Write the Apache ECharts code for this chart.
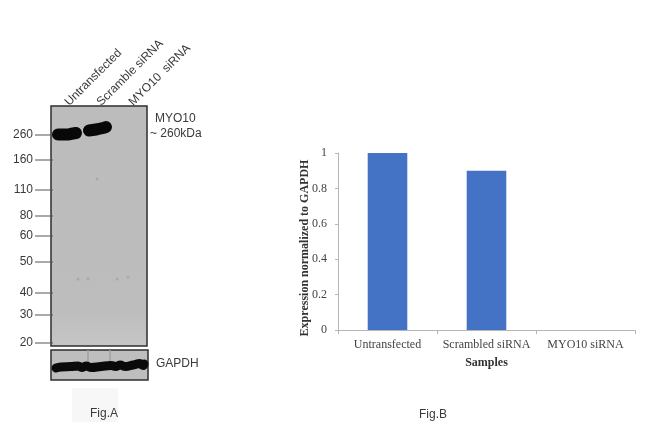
<!DOCTYPE html>
<html><head><meta charset="utf-8">
<style>html,body{margin:0;padding:0;background:#fff}#c{width:650px;height:429px}</style>
<script src="https://cdn.jsdelivr.net/npm/echarts@6/dist/echarts.min.js"></script>
</head><body><div id="c"></div>
<script>
const samples = ['Untransfected','Scrambled siRNA','MYO10 siRNA'];
const expression = [1, 0.9, 0];
const laneLabels = ['Untransfected','Scramble siRNA','MYO10  siRNA'];
// molecular weight marker and its migration distance on the gel (arbitrary units, read from the blot)
const markerKDa = [260,160,110,80,60,50,40,30,20];
const markerMigration = [29,54,84,110,130,156,187,209,237];
// MYO10 band profiles: [position across lane, migration]
const band1 = [[7,28.5],[15,28.5],[22,27.5],[25,27]];
const band2 = [[38,24.5],[45,23.5],[52,22],[55,21]];
// faint specks on the membrane
const gelSpecks = [[46,73],[27,173],[37,173],[77,171],[66,173]];
// GAPDH band profile across the panel
const gapdh = [[5,18],[10,17],[20,16.5],[27,16],[31,17.5],[35,16],[40,17.5],[50,16.5],[60,15.5],[65,16.5],[69,15],[74,16.5],[82,15],[89,13.5],[92,15.5],[93,14]];
const gapdhStreaks = [37,59];

const font = 'Liberation Sans, Arial, sans-serif';
const serif = 'Liberation Serif, Times New Roman, serif';
const ink = '#3a3a3a';

const chart = echarts.init(document.getElementById('c'), null, {renderer:'canvas'});
chart.setOption({
  animation:false,
  backgroundColor:'#fff',
  grid:[
    {left:338, top:153, width:297, height:177},
    {left:51, top:106, width:96, height:240, show:true, borderColor:'#2e2e2e', borderWidth:1.5,
      backgroundColor:{type:'linear',x:0,y:0,x2:0,y2:1,colorStops:[{offset:0,color:'#bcbcbc'},{offset:0.85,color:'#bdbdbd'},{offset:1,color:'#c6c6c6'}]}},
    {left:51, top:350, width:97, height:30, show:true, borderColor:'#2e2e2e', borderWidth:1.5, backgroundColor:'#bebebe'}
  ],
  xAxis:[
    {gridIndex:0,type:'category',data:samples,
      axisLine:{lineStyle:{color:'#b5b5b5'}},
      axisTick:{show:true,alignWithLabel:false,lineStyle:{color:'#b5b5b5'},length:4},
      axisLabel:{color:'#444',fontFamily:serif,fontSize:12,margin:9,interval:0},
      name:'Samples',nameLocation:'middle',nameGap:27,nameMoveOverlap:false,
      nameTextStyle:{fontFamily:serif,fontWeight:'bold',fontSize:12,color:'#333'}},
    {gridIndex:1,type:'category',position:'top',data:laneLabels,
      axisLine:{show:false},axisTick:{show:false},
      axisLabel:{rotate:45,color:ink,fontFamily:font,fontSize:12,margin:2,interval:0,align:'left',verticalAlign:'middle'}},
    {gridIndex:1,type:'value',min:0,max:96,show:false},
    {gridIndex:2,type:'value',min:0,max:97,show:false}
  ],
  yAxis:[
    {gridIndex:0,type:'value',min:0,max:1,interval:0.2,
      axisLine:{show:true,lineStyle:{color:'#b5b5b5'}},
      axisTick:{show:true,lineStyle:{color:'#b5b5b5'},length:3},
      splitLine:{show:false},
      axisLabel:{color:'#444',fontFamily:serif,fontSize:12,margin:11},
      name:'Expression normalized to GAPDH',nameLocation:'middle',nameGap:27,nameMoveOverlap:false,
      nameTextStyle:{fontFamily:serif,fontWeight:'bold',fontSize:12,color:'#333',padding:[0,13,0,0]}},
    {gridIndex:1,type:'value',min:0,max:240,inverse:true,show:false},
    {gridIndex:2,type:'value',min:0,max:30,inverse:true,show:false}
  ],
  series:[
    {type:'bar',xAxisIndex:0,yAxisIndex:0,data:expression,barWidth:'40%',itemStyle:{color:'#4472c4'}},
    {type:'custom',xAxisIndex:2,yAxisIndex:1,coordinateSystem:'cartesian2d',clip:false,
      data:markerKDa.map((k,i)=>[0,markerMigration[i],k]),
      encode:{x:0,y:1},
      renderItem(params,api){
        const p=api.coord([0,api.value(1)]);
        return {type:'group',children:[
          {type:'line',shape:{x1:p[0]-16,y1:p[1],x2:p[0]+2,y2:p[1]},style:{stroke:'#555',lineWidth:1}},
          {type:'text',style:{x:p[0]-18,y:p[1],text:String(api.value(2)),align:'right',verticalAlign:'middle',fill:ink,font:'12px '+font}}
        ]};
      }},
    {type:'scatter',xAxisIndex:2,yAxisIndex:1,data:gelSpecks,symbolSize:3,itemStyle:{color:'#a4a4a4'}},
    {type:'line',xAxisIndex:2,yAxisIndex:1,data:band1,smooth:true,symbol:'none',
      lineStyle:{color:'#080808',width:12,cap:'round'}},
    {type:'line',xAxisIndex:2,yAxisIndex:1,data:band2,smooth:true,symbol:'none',
      lineStyle:{color:'#080808',width:12,cap:'round'}},
    {type:'custom',xAxisIndex:3,yAxisIndex:2,coordinateSystem:'cartesian2d',
      data:gapdhStreaks.map(x=>[x,0]),encode:{x:0,y:1},
      renderItem(params,api){
        const a=api.coord([api.value(0),0]),b=api.coord([api.value(0),13]);
        return {type:'line',shape:{x1:a[0],y1:a[1],x2:b[0],y2:b[1]},style:{stroke:'#a0a0a0',lineWidth:1.5}};
      }},
    {type:'line',xAxisIndex:3,yAxisIndex:2,data:gapdh,smooth:true,symbol:'none',
      lineStyle:{color:'#0a0a0a',width:9,cap:'round'}}
  ],
  graphic:[
    {type:'rect',z:-1,shape:{x:72,y:388,width:46,height:34},style:{fill:'#f7f7f7'}},
    {type:'text',style:{x:155,y:113,text:'MYO10',fill:ink,font:'12px '+font}},
    {type:'text',style:{x:150,y:128,text:'~ 260kDa',fill:ink,font:'12px '+font}},
    {type:'text',style:{x:156,y:358,text:'GAPDH',fill:ink,font:'12px '+font}},
    {type:'text',style:{x:90,y:408,text:'Fig.A',fill:ink,font:'12px '+font}},
    {type:'text',style:{x:419,y:409,text:'Fig.B',fill:ink,font:'12px '+font}}
  ]
});
</script></body></html>
